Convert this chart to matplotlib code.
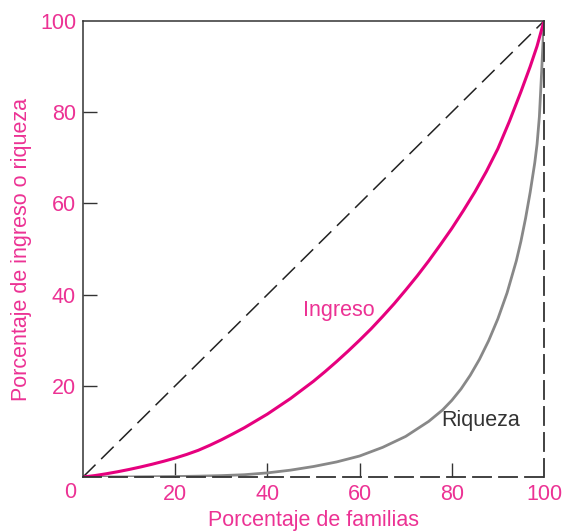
import numpy as np
import matplotlib
matplotlib.use('Agg')
import matplotlib.pyplot as plt

plt.rcParams['font.family'] = ['Liberation Sans', 'DejaVu Sans']

# Curvas de Lorenz
fam = [0, 2.5, 5, 7.5, 10, 12.5, 15, 17.5, 20, 22.5, 25, 27.5, 30, 32.5, 35, 37.5,
       40, 42.5, 45, 47.5, 50, 52.5, 55, 57.5, 60, 62.5, 65, 67.5, 70, 72.5, 75,
       77.5, 80, 82.5, 85, 87.5, 90, 92.5, 95, 97, 98.5, 100]
ingreso = [0, 0.3, 0.7, 1.15, 1.65, 2.2, 2.8, 3.45, 4.15, 4.95, 5.85, 6.95, 8.15, 9.45, 10.8, 12.3,
           13.8, 15.5, 17.2, 19.1, 21.0, 23.1, 25.3, 27.6, 30.0, 32.5, 35.2, 38.0, 41.0, 44.1, 47.4,
           50.9, 54.5, 58.4, 62.5, 67.0, 72.0, 78.0, 84.5, 90.0, 94.5, 100]

fam_r = [0, 10, 20, 25, 30, 35, 40, 45, 50, 55, 60, 65, 70, 75, 78, 80, 82, 84, 86, 88,
         90, 92, 94, 95, 96, 97, 98, 98.5, 99, 99.5, 100]
riqueza = [0, 0.02, 0.1, 0.18, 0.3, 0.5, 0.9, 1.5, 2.3, 3.3, 4.6, 6.5, 8.9, 12.2, 14.7, 16.8,
           19.3, 22.3, 25.8, 29.9, 34.7, 40.4, 47.4, 51.7, 56.7, 62.4, 68.9, 73.0, 79.0, 89.0, 100]

diag = [0, 100]
ticks = [20, 40, 60, 80]

pink = '#E6007E'
pink_txt = '#EC3294'
fs = 15.5

fig = plt.figure(figsize=(5.67, 5.32), dpi=100)
ax = fig.add_axes([0.1464, 0.1034, 0.8130, 0.8571])

ax.plot(diag, diag, color='#222222', lw=1.1, dashes=(11.5, 5.2))
ax.plot(fam_r, riqueza, color='#888888', lw=2.0, solid_capstyle='round')
ax.plot(fam, ingreso, color=pink, lw=2.2, solid_capstyle='round')

ax.set_xlim(0, 100)
ax.set_ylim(0, 100)

for s in ['left', 'top']:
    ax.spines[s].set_color('#333333')
    ax.spines[s].set_linewidth(1.1)
for s in ['bottom', 'right']:
    ax.spines[s].set_color('#333333')
    ax.spines[s].set_linewidth(1.3)
    ax.spines[s].set_linestyle((0, (10, 4.4)))

ax.set_xticks([0] + ticks + [100])
ax.set_xticklabels(['', '20', '40', '60', '80', '100'])
ax.set_yticks([0] + ticks + [100])
ax.set_yticklabels(['', '20', '40', '60', '80', '100'])
ax.tick_params(direction='in', length=10, width=1.0, color='#333333',
               labelsize=fs, labelcolor=pink_txt)
ax.tick_params(axis='x', pad=5)
ax.tick_params(axis='y', pad=5)
# sin marcas en 0 y 100
for t in ax.xaxis.get_major_ticks() + ax.yaxis.get_major_ticks():
    if t.get_loc() in (0, 100):
        t.tick1line.set_visible(False)

ax.text(-2.8, -3.5, '0', color=pink_txt, fontsize=fs, ha='center', va='center',
        clip_on=False)

ax.set_xlabel('Porcentaje de familias', color=pink_txt, fontsize=fs, labelpad=4)
ax.set_ylabel('Porcentaje de ingreso o riqueza', color=pink_txt, fontsize=fs, labelpad=6)

ax.text(55.5, 36.6, 'Ingreso', color=pink_txt, fontsize=fs, ha='center', va='center')
ax.text(86.3, 12.3, 'Riqueza', color='#333333', fontsize=fs, ha='center', va='center')

fig.savefig('out.png', dpi=100)
